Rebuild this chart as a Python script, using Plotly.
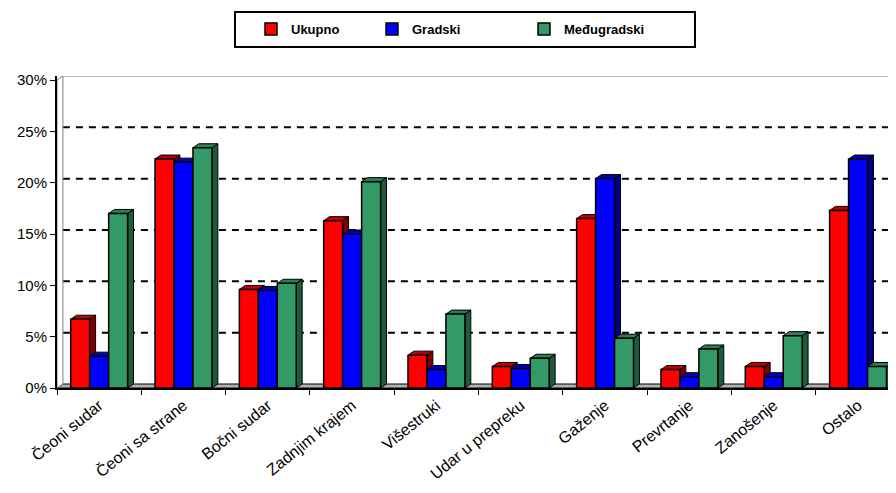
import plotly.graph_objects as go

categories = ["Čeoni sudar", "Čeoni sa strane", "Bočni sudar", "Zadnjim krajem", "Višestruki",
              "Udar u prepreku", "Gaženje", "Prevrtanje", "Zanošenje", "Ostalo"]
ukupno = [6.7, 22.3, 9.6, 16.3, 3.2, 2.1, 16.5, 1.8, 2.1, 17.3]
gradski = [3.1, 22.0, 9.5, 15.0, 1.8, 1.9, 20.4, 1.1, 1.1, 22.3]
medjugradski = [17.0, 23.4, 10.2, 20.1, 7.2, 2.9, 4.85, 3.8, 5.1, 2.1]
series_names = ["Ukupno", "Gradski", "Međugradski"]
y_ticks = [0, 5, 10, 15, 20, 25, 30]
y_tick_labels = ["0%", "5%", "10%", "15%", "20%", "25%", "30%"]

front = ["#FF0000", "#0000FF", "#339966"]
topc = ["#C00000", "#0000C0", "#2A7F55"]
sidec = ["#800000", "#000080", "#1E5A3C"]

x = list(range(len(categories)))
bar_w = 0.225
dx = 0.07     # depth offset in category units
dy = 0.39     # depth offset in y units
x_lo, x_hi = -0.5, 9.45
y_top = 30 + dy

# the page body adds an 8px margin, so figure pixels = page pixels - 8
OFF = 8
W, H = 896 - OFF, 493 - OFF
L, R, T, B = 57 - OFF, 896 - OFF, 76 - OFF, 388 - OFF
def px_x(p):
    return (p - OFF - L) / (R - L)
def px_y(p):
    return (B - (p - OFF)) / (B - T)

fig = go.Figure()
all_series = [ukupno, gradski, medjugradski]
legend_ids = ["legend", "legend2", "legend3"]
for j, (name, vals) in enumerate(zip(series_names, all_series)):
    fig.add_trace(go.Bar(
        x=x, y=vals, name=name, width=bar_w,
        offset=(j - 1.5) * bar_w,
        marker=dict(color=front[j], line=dict(color="black", width=1.5)),
        legend=legend_ids[j],
    ))

shapes = []
# floor
shapes.append(dict(type="path", xref="x", yref="y", layer="between",
                   path=f"M {x_lo},0 L {x_lo+dx},{dy} L {x_hi},{dy} L {x_hi},0 Z",
                   fillcolor="#B0B0B0", line=dict(color="black", width=1)))
# left wall
shapes.append(dict(type="path", xref="x", yref="y", layer="between",
                   path=f"M {x_lo},0 L {x_lo+dx},{dy} L {x_lo+dx},{y_top} L {x_lo},{30} Z",
                   fillcolor="white", line=dict(color="#808080", width=1)))
# gridlines on back wall
for t in y_ticks[1:-1]:
    shapes.append(dict(type="line", xref="x", yref="y", layer="below",
                       x0=x_lo + dx, x1=x_hi, y0=t + dy, y1=t + dy,
                       line=dict(color="black", width=2, dash="7px,6px")))
shapes.append(dict(type="line", xref="x", yref="y", layer="below",
                   x0=x_lo + dx, x1=x_hi, y0=y_top, y1=y_top,
                   line=dict(color="#808080", width=1)))

# 3D faces for bars
for i in x:
    for j, vals in enumerate(all_series):
        v = vals[i]
        xl = i + (j - 1.5) * bar_w
        xr = xl + bar_w
        shapes.append(dict(type="path", xref="x", yref="y", layer="between",
                           path=f"M {xr},0 L {xr+dx},{dy} L {xr+dx},{v+dy} L {xr},{v} Z",
                           fillcolor=sidec[j], line=dict(color="black", width=1)))
        shapes.append(dict(type="path", xref="x", yref="y", layer="between",
                           path=f"M {xl},{v} L {xl+dx},{v+dy} L {xr+dx},{v+dy} L {xr},{v} Z",
                           fillcolor=topc[j], line=dict(color="black", width=1)))

# legend box
shapes.append(dict(type="rect", xref="paper", yref="paper",
                   x0=px_x(235), x1=px_x(695), y0=px_y(47), y1=px_y(12),
                   line=dict(color="black", width=2), fillcolor="rgba(0,0,0,0)"))

legend_font = dict(family="Arial, Liberation Sans", size=13, color="black", weight="bold")
legend_left_px = [251, 372, 524]
legend_cfg = {}
for lid, lp in zip(legend_ids, legend_left_px):
    legend_cfg[lid] = dict(x=px_x(lp), xanchor="left", y=px_y(29), yanchor="middle",
                           bgcolor="rgba(0,0,0,0)", borderwidth=0, font=legend_font,
                           itemwidth=30, orientation="h")

fig.update_layout(
    width=W, height=H,
    margin=dict(l=L, r=W - R, t=T, b=H - B, autoexpand=False),
    paper_bgcolor="white", plot_bgcolor="white",
    barmode="overlay",
    showlegend=True,
    shapes=shapes,
    font=dict(family="Arial, Liberation Sans", size=14, color="black"),
    **legend_cfg,
)
fig.update_xaxes(range=[x_lo, x_hi], tickvals=x, ticktext=categories, tickangle=-39,
                 ticks="", showgrid=False, zeroline=False, automargin=False,
                 showline=True, linecolor="black", linewidth=2,
                 minor=dict(tickvals=[i - 0.5 for i in x], ticks="outside", ticklen=5,
                            tickcolor="black", tickwidth=1, showgrid=False),
                 tickfont=dict(size=16))
fig.update_yaxes(range=[0, y_top], tickvals=y_ticks, ticktext=y_tick_labels,
                 ticks="outside", ticklen=5, tickcolor="black", showgrid=False,
                 zeroline=False, showline=True, linecolor="black", linewidth=2,
                 automargin=False, tickfont=dict(size=15))

fig.write_html("out.html")
